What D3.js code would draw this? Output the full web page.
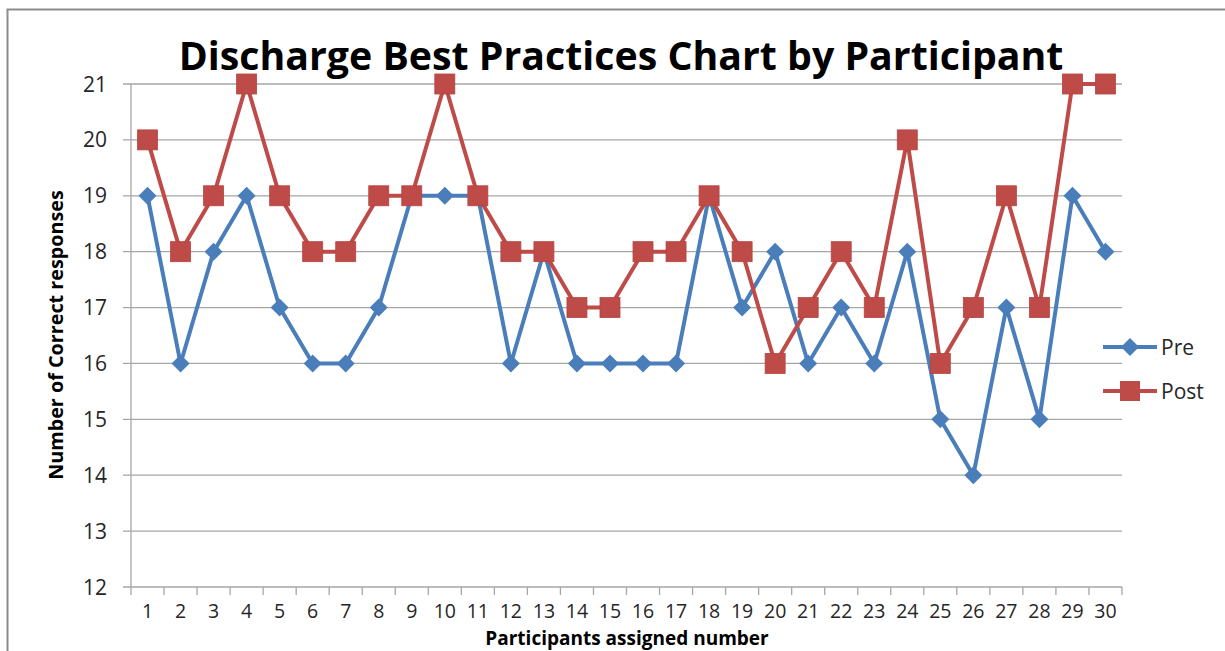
<!DOCTYPE html>
<html><head><meta charset="utf-8">
<script src="https://cdn.jsdelivr.net/npm/d3@7"></script>
<style>body{margin:0;background:#fff;} svg{display:block;}</style>
</head><body>
<svg id="c" width="1225" height="651"></svg>
<script>
const participants = d3.range(1, 31);
const preValues = [19,16,18,19,17,16,16,17,19,19,19,16,18,16,16,16,16,19,17,18,16,17,16,18,15,14,17,15,19,18];
const postValues = [20,18,19,21,19,18,18,19,19,21,19,18,18,17,17,18,18,19,18,16,17,18,17,20,16,17,19,17,21,21];
const yTicks = [12,13,14,15,16,17,18,19,20,21];
const seriesNames = ["Pre", "Post"];

const svg = d3.select("#c");
const font = "'Open Sans', 'Liberation Sans', sans-serif";
const preColor = "#4a7ebb", postColor = "#be4b48";

// frame
svg.append("path").attr("d", "M7.5,651 V9.5 H1225").attr("fill","none").attr("stroke","#8c8c8c").attr("stroke-width",2);

const L = 131, R = 1122, T = 84, B = 587;
const x = d3.scaleBand().domain(participants).range([L, R]);
const y = d3.scaleLinear().domain([12, 21]).range([B, T]);

// grid
svg.append("g").selectAll("line").data(yTicks).join("line")
  .attr("x1", L - 8).attr("x2", R).attr("y1", d => y(d)).attr("y2", d => y(d))
  .attr("stroke", "#a6a6a6").attr("stroke-width", 1.3);

// y axis line
svg.append("line").attr("x1", L).attr("x2", L).attr("y1", T).attr("y2", B).attr("stroke","#a6a6a6").attr("stroke-width",1.3);
// x ticks at band boundaries
const bounds = participants.map(d => x(d)).concat([R]);
svg.append("g").selectAll("line").data(bounds).join("line")
  .attr("x1", d => d).attr("x2", d => d).attr("y1", B).attr("y2", B + 8)
  .attr("stroke", "#a6a6a6").attr("stroke-width", 1.3);

// y tick labels
svg.append("g").selectAll("text").data(yTicks).join("text")
  .attr("x", 107).attr("y", d => y(d)).attr("dy", "0.36em")
  .attr("text-anchor", "end").attr("font-family", font).attr("font-size", 21).attr("fill", "#262626")
  .text(d => d);
// x tick labels
svg.append("g").selectAll("text").data(participants).join("text")
  .attr("x", d => x(d) + x.bandwidth()/2).attr("y", 618)
  .attr("text-anchor", "middle").attr("font-family", font).attr("font-size", 19.5).attr("fill", "#262626")
  .text(d => d);

// title
const title = svg.append("text").attr("x", 621).attr("y", 70).attr("text-anchor","middle")
  .attr("font-family", font).attr("font-weight","bold").attr("font-size", 38).attr("fill","#000")
  .text("Discharge Best Practices Chart by Participant");
const tw = title.node().getComputedTextLength();
title.attr("font-size", 38 * 885 / tw);

// axis titles
svg.append("text").attr("x", 627).attr("y", 645).attr("text-anchor","middle")
  .attr("font-family", font).attr("font-weight","bold").attr("font-size", 19).attr("fill","#000")
  .text("Participants  assigned number");
const yt = svg.append("text").attr("transform","translate(63,335) rotate(-90)").attr("text-anchor","middle")
  .attr("font-family", font).attr("font-weight","bold").attr("font-size", 17).attr("fill","#000")
  .text("Number of Correct responses");
yt.attr("font-size", 17 * 290 / yt.node().getComputedTextLength());

const cx = d => x(d) + x.bandwidth()/2;
const line = d3.line().x(d => cx(d[0])).y(d => y(d[1]));
const preData = participants.map((p,i) => [p, preValues[i]]);
const postData = participants.map((p,i) => [p, postValues[i]]);

svg.append("path").datum(preData).attr("d", line).attr("fill","none").attr("stroke", preColor).attr("stroke-width", 4).attr("stroke-linejoin","round");
svg.append("path").datum(postData).attr("d", line).attr("fill","none").attr("stroke", postColor).attr("stroke-width", 4).attr("stroke-linejoin","round");

const diamond = (s) => `M0,${-s}L${s},0L0,${s}L${-s},0Z`;
svg.append("g").selectAll("path").data(preData).join("path")
  .attr("transform", d => `translate(${cx(d[0])},${y(d[1])})`).attr("d", diamond(9)).attr("fill", preColor);
svg.append("g").selectAll("rect").data(postData).join("rect")
  .attr("x", d => cx(d[0]) - 10).attr("y", d => y(d[1]) - 10).attr("width", 20).attr("height", 20)
  .attr("fill", postColor).attr("stroke", "#b54541").attr("stroke-width", 0.8);

// legend
const lg = svg.append("g");
const legendY = [347, 391];
seriesNames.forEach((n, i) => {
  const c = i === 0 ? preColor : postColor;
  lg.append("line").attr("x1", 1103).attr("x2", 1157).attr("y1", legendY[i]).attr("y2", legendY[i]).attr("stroke", c).attr("stroke-width", 4);
  if (i === 0) lg.append("path").attr("transform", `translate(1130,${legendY[i]})`).attr("d", diamond(9)).attr("fill", c);
  else lg.append("rect").attr("x", 1120).attr("y", legendY[i]-10).attr("width",20).attr("height",20).attr("fill", c);
  lg.append("text").attr("x", 1161).attr("y", legendY[i]).attr("dy","0.36em").attr("font-family", font).attr("font-size", 21).attr("fill","#262626").text(n);
});
</script>
</body></html>
